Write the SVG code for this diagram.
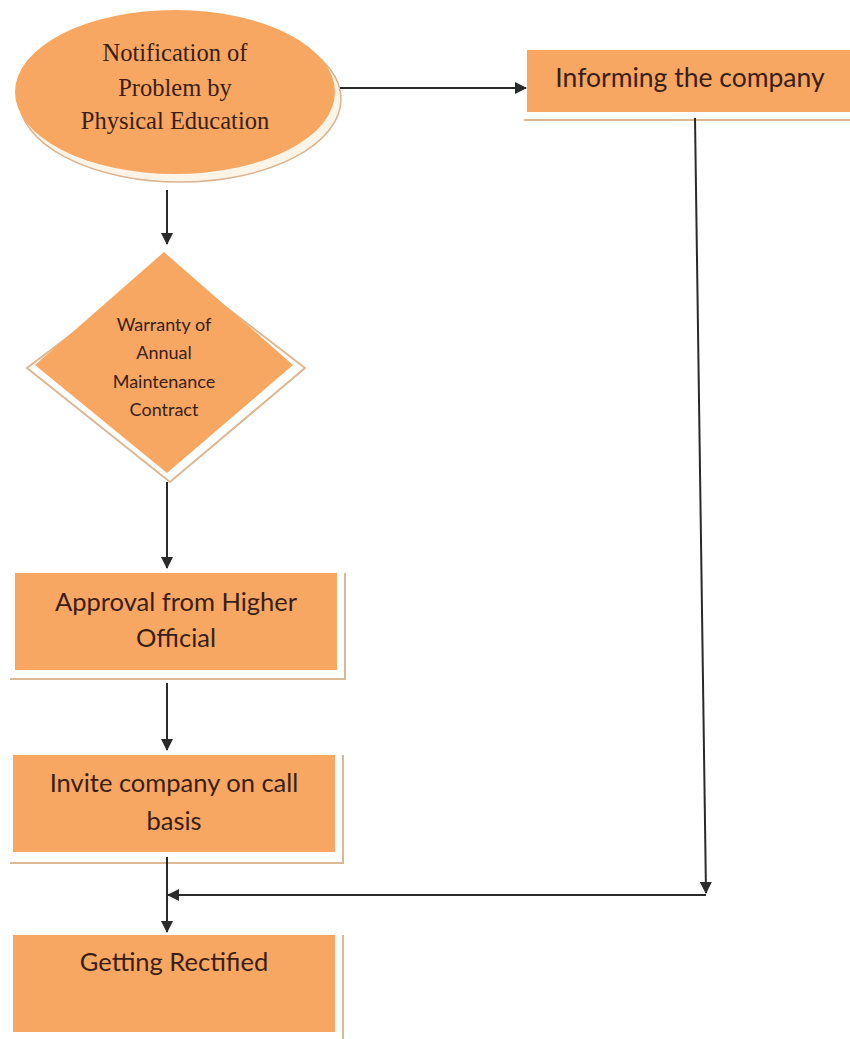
<svg xmlns="http://www.w3.org/2000/svg" width="850" height="1039" viewBox="0 0 850 1039">
  <style>
    .fill { fill: #F7A762; }
    .shadow { fill: none; stroke: #DDB894; stroke-width: 2; }
    .serif { font-family: "Liberation Serif", "Times New Roman", serif; font-size: 24.5px; fill: #3A1E14; text-anchor: middle; }
    .sans { font-family: Lato, "Open Sans", "Liberation Sans", sans-serif; fill: #3A1E14; text-anchor: middle; }
    .big { font-size: 25.5px; }
    .small { font-size: 18px; }
    .conn { stroke: #2A2A2A; stroke-width: 2; fill: none; }
  </style>
  <defs>
    <marker id="arrow" viewBox="0 0 12 12" refX="11" refY="6" markerWidth="12" markerHeight="12" markerUnits="userSpaceOnUse" orient="auto">
      <path d="M0,0 L12,6 L0,12 Z" fill="#2A2A2A"/>
    </marker>
  </defs>
  <rect width="850" height="1039" fill="#FFFFFF"/>

  <g id="node-notification">
    <ellipse cx="180" cy="99" rx="161" ry="83" fill="#FDF4E8" stroke="#D9B48E" stroke-width="1.5"/>
    <ellipse cx="175" cy="92" rx="160" ry="82" class="fill"/>
    <text class="serif" x="175" y="61">Notification of</text>
    <text class="serif" x="175" y="96">Problem by</text>
    <text class="serif" x="175" y="129">Physical Education</text>
  </g>

  <g id="node-informing">
    <rect x="527" y="50" width="323" height="62" class="fill"/>
    <line x1="524" y1="120" x2="850" y2="120" class="shadow" stroke-width="2.5"/>
    <text class="sans" font-size="26.5" x="690" y="87">Informing the company</text>
  </g>

  <g id="node-warranty">
    <polygon points="167,262 305,368 170,482 27,368" fill="#FFFFFF" class="shadow" stroke-width="1.5"/>
    <polygon points="164,252 293,365 167,473 35,365" class="fill"/>
    <text class="sans small" x="164" y="331">Warranty of</text>
    <text class="sans small" x="164" y="359">Annual</text>
    <text class="sans small" x="164" y="388">Maintenance</text>
    <text class="sans small" x="164" y="416">Contract</text>
  </g>

  <g id="node-approval">
    <polyline points="345,573 345,679 10,679" class="shadow"/>
    <rect x="15" y="573" width="322" height="97" class="fill"/>
    <text class="sans big" x="176" y="611">Approval from Higher</text>
    <text class="sans big" x="176" y="647">Official</text>
  </g>

  <g id="node-invite">
    <polyline points="343,755 343,863 10,863" class="shadow"/>
    <rect x="13" y="755" width="322" height="97" class="fill"/>
    <text class="sans big" x="174" y="792">Invite company on call</text>
    <text class="sans big" x="174" y="830">basis</text>
  </g>

  <g id="node-rectified">
    <polyline points="343,935 343,1039" class="shadow"/>
    <rect x="13" y="935" width="322" height="97" class="fill"/>
    <text class="sans big" x="174" y="971">Getting Rectified</text>
  </g>

  <g id="connectors">
    <line x1="340" y1="88" x2="526" y2="88" class="conn" marker-end="url(#arrow)"/>
    <line x1="167" y1="190" x2="167" y2="244" class="conn" marker-end="url(#arrow)"/>
    <line x1="167" y1="482" x2="167" y2="568" class="conn" marker-end="url(#arrow)"/>
    <line x1="167" y1="683" x2="167" y2="750" class="conn" marker-end="url(#arrow)"/>
    <line x1="167" y1="857" x2="167" y2="932" class="conn" marker-end="url(#arrow)"/>
    <line x1="695" y1="118" x2="706" y2="893" class="conn" marker-end="url(#arrow)"/>
    <line x1="706" y1="895" x2="168" y2="895" class="conn" marker-end="url(#arrow)"/>
  </g>
</svg>
